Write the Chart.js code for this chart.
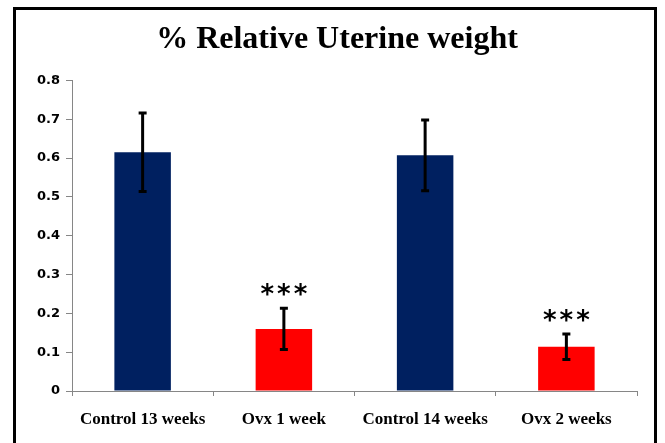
<!DOCTYPE html>
<html>
<head>
<meta charset="utf-8">
<script src="https://cdn.jsdelivr.net/npm/chart.js@4"></script>
<style>
  html, body { margin: 0; padding: 0; background: #fff; }
  #wrap { position: relative; width: 665px; height: 443px; overflow: hidden; }
  #frame {
    position: absolute; left: 13px; top: 7px; width: 638px; height: 470px;
    border: 3px solid #000; pointer-events: none;
  }
</style>
</head>
<body>
<div id="wrap">
  <canvas id="grafico" width="665" height="443"></canvas>
  <div id="frame"></div>
</div>
<script>
// Dados
const grupos = ['Control 13 weeks', 'Ovx 1 week', 'Control 14 weeks', 'Ovx 2 weeks'];
const medias = [0.615, 0.160, 0.607, 0.114];
const erros = [0.101, 0.053, 0.091, 0.033];
const cores = ['#002060', '#FF0000', '#002060', '#FF0000'];
const significancia = ['', '***', '', '***'];
const ticksY = [0, 0.1, 0.2, 0.3, 0.4, 0.5, 0.6, 0.7, 0.8];

// Barras de erro e asteriscos
const barrasErro = {
  id: 'barrasErro',
  afterDatasetsDraw(chart) {
    const ctx = chart.ctx;
    const y = chart.scales.y;
    const barras = chart.getDatasetMeta(0).data;
    ctx.save();
    ctx.strokeStyle = '#000';
    ctx.lineWidth = 3;
    barras.forEach((barra, i) => {
      const topo = y.getPixelForValue(medias[i] + erros[i]);
      const base = y.getPixelForValue(medias[i] - erros[i]);
      ctx.beginPath();
      ctx.moveTo(barra.x, topo);
      ctx.lineTo(barra.x, base);
      ctx.moveTo(barra.x - 4, topo);
      ctx.lineTo(barra.x + 4, topo);
      ctx.moveTo(barra.x - 4, base);
      ctx.lineTo(barra.x + 4, base);
      ctx.stroke();
      if (significancia[i]) {
        ctx.fillStyle = '#000';
        ctx.font = 'bold 26px "DejaVu Sans"';
        ctx.letterSpacing = '3px';
        ctx.textAlign = 'center';
        ctx.textBaseline = 'middle';
        ctx.fillText(significancia[i], barra.x + 1.5, topo - 12);
      }
    });
    ctx.restore();
  },
};

const ctxGrafico = document.getElementById('grafico').getContext('2d');
const grafico = new Chart(ctxGrafico, {
  type: 'bar',
  data: {
    labels: grupos,
    datasets: [
      {
        data: medias,
        backgroundColor: cores,
        barPercentage: 0.4,
        categoryPercentage: 1,
      },
    ],
  },
  options: {
    responsive: false,
    animation: false,
    layout: { padding: { left: 9, right: 0, top: 0, bottom: 0 } },
    plugins: {
      legend: { display: false },
      tooltip: { enabled: false },
      title: {
        display: true,
        text: '% Relative Uterine weight',
        color: '#000',
        font: { family: '"Liberation Serif"', size: 32, weight: 'bold' },
        padding: { top: 21, bottom: 21 },
      },
    },
    scales: {
      x: {
        grid: {
          drawOnChartArea: false,
          color: '#868686',
          tickLength: 5,
          offset: true,
        },
        border: { color: '#868686' },
        ticks: {
          color: '#000',
          padding: 13,
          maxRotation: 0,
          font: { family: '"Liberation Serif"', size: 17, weight: 'bold' },
        },
        afterFit(escala) {
          escala.height = 52;
        },
      },
      y: {
        min: 0,
        max: 0.8,
        afterBuildTicks(escala) {
          escala.ticks = ticksY.map((v) => ({ value: v }));
        },
        grid: { drawOnChartArea: false, color: '#868686', tickLength: 6 },
        border: { color: '#868686' },
        ticks: {
          color: '#000',
          padding: 6,
          font: { family: '"DejaVu Sans"', size: 13, weight: 'bold' },
          callback: (v) => String(v),
        },
        afterFit(escala) {
          escala.width = 63;
        },
      },
      direita: {
        position: 'right',
        grid: { display: false },
        border: { display: false },
        ticks: { display: false },
        afterFit(escala) {
          escala.width = 28;
        },
      },
    },
  },
  plugins: [barrasErro],
});
</script>
</body>
</html>
